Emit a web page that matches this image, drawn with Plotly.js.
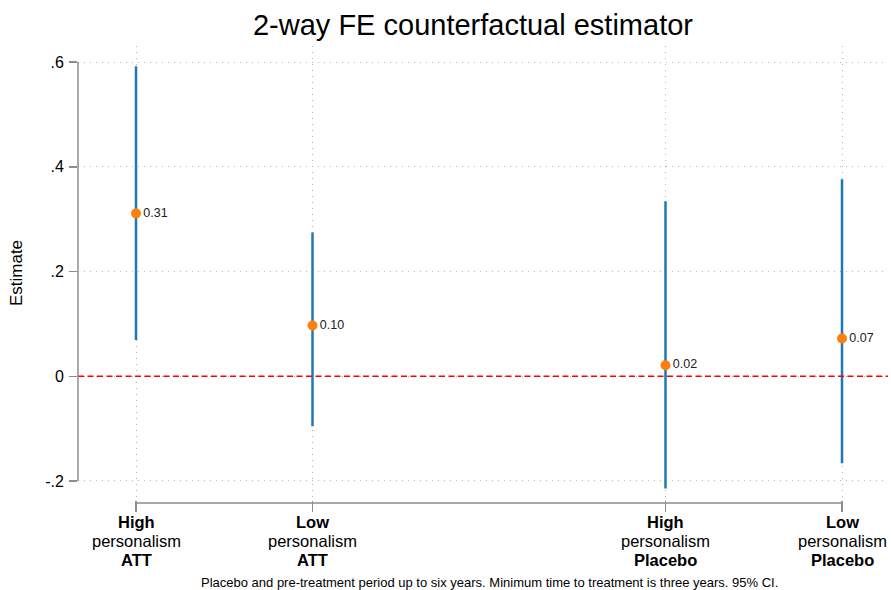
<!DOCTYPE html>
<html>
<head>
<meta charset="utf-8">
<script src="https://cdn.plot.ly/plotly-3.0.1.min.js"></script>
<style>html,body{margin:0;padding:0;background:#fff;}#chart{width:891px;height:590px;}</style>
</head>
<body>
<div id="chart"></div>
<script>
// Data
var positions = [1, 2, 4, 5];
var groupLabels = ["High", "Low", "High", "Low"];
var middleLabels = ["personalism", "personalism", "personalism", "personalism"];
var typeLabels = ["ATT", "ATT", "Placebo", "Placebo"];
var estimates = [0.311, 0.097, 0.021, 0.072];
var ciLower = [0.069, -0.0955, -0.2145, -0.166];
var ciUpper = [0.592, 0.2745, 0.334, 0.376];
var estimateText = ["0.31", "0.10", "0.02", "0.07"];
var yTickVals = [-0.2, 0, 0.2, 0.4, 0.6];
var yTickText = ["-.2", "0", ".2", ".4", ".6"];

var xRange = [0.6714, 5.2606];
var yRange = [-0.2363, 0.6306];
var FONT = "Liberation Sans, Arial, sans-serif";

function px(v){ return (v - xRange[0]) / (xRange[1] - xRange[0]); }
function py(v){ return (v - yRange[0]) / (yRange[1] - yRange[0]); }

var trace = {
  x: positions,
  y: estimates,
  type: "scatter",
  mode: "markers+text",
  text: estimateText,
  textposition: "middle right",
  textfont: {family: FONT, size: 12.5, color: "#222"},
  marker: {color: "#ff7f0e", size: 10},
  error_y: {
    type: "data",
    symmetric: false,
    array: estimates.map(function(e, i){ return ciUpper[i] - e; }),
    arrayminus: estimates.map(function(e, i){ return e - ciLower[i]; }),
    color: "#1f77b4",
    thickness: 2.5,
    width: 0
  },
  cliponaxis: false,
  hoverinfo: "skip",
  showlegend: false
};

var annotations = [];
for (var i = 0; i < positions.length; i++) {
  annotations.push({x: positions[i], xref: "x", y: 0, yref: "paper", yanchor: "middle", yshift: -21.5,
    borderpad: 0, valign: "middle",
    text: "<b>" + groupLabels[i] + "</b>", showarrow: false, font: {family: FONT, size: 16.5, color: "#000"}});
  annotations.push({x: positions[i], xref: "x", y: 0, yref: "paper", yanchor: "middle", yshift: -40.5,
    borderpad: 0, valign: "middle",
    text: middleLabels[i], showarrow: false, font: {family: FONT, size: 16.5, color: "#000"}});
  annotations.push({x: positions[i], xref: "x", y: 0, yref: "paper", yanchor: "middle", yshift: -59.5,
    borderpad: 0, valign: "middle",
    text: "<b>" + typeLabels[i] + "</b>", showarrow: false, font: {family: FONT, size: 16.5, color: "#000"}});
}
annotations.push({x: (489 - 78) / 810, xref: "paper", y: 0, yref: "paper", yanchor: "middle", yshift: -82.5,
  height: 15, borderpad: 0, valign: "middle",
  text: "Placebo and pre-treatment period up to six years. Minimum time to treatment is three years. 95% CI.",
  showarrow: false, font: {family: FONT, size: 13, color: "#000"}});

var shapes = [
  // zero reference line
  {type: "line", xref: "paper", yref: "paper", x0: 0, x1: 1, y0: py(0), y1: py(0),
   line: {color: "#ff0000", width: 1.5, dash: "6px,3.5px"}},
  // y axis line
  {type: "line", xref: "paper", yref: "paper", x0: 0, x1: 0, y0: py(yTickVals[0]), y1: py(yTickVals[yTickVals.length-1]),
   line: {color: "#8c8c8c", width: 1.5}},
  // x axis line
  {type: "line", xref: "paper", yref: "paper", x0: px(positions[0]), x1: px(positions[positions.length-1]), y0: -3/454, y1: -3/454,
   line: {color: "#8c8c8c", width: 1.5}}
];

var layout = {
  width: 891, height: 590,
  margin: {l: 78, r: 3, t: 46, b: 90, pad: 0},
  paper_bgcolor: "#fff", plot_bgcolor: "#fff",
  font: {family: FONT, color: "#000"},
  title: {text: "2-way FE counterfactual estimator", font: {family: FONT, size: 29, color: "#000"},
    x: (473 - 0) / 891, xanchor: "center", xref: "container", y: 1 - 25/590, yanchor: "middle", yref: "container"},
  xaxis: {range: xRange, tickmode: "array", tickvals: positions, showticklabels: false,
    ticks: "outside", ticklen: 11, tickwidth: 1.5, tickcolor: "#8c8c8c",
    showgrid: true, gridcolor: "#b4b4b4", griddash: "1px,5px", gridwidth: 1,
    zeroline: false, showline: false, fixedrange: true},
  yaxis: {range: yRange, tickmode: "array", tickvals: yTickVals, ticktext: yTickText,
    ticks: "outside", ticklen: 8, tickwidth: 1.5, tickcolor: "#8c8c8c", ticklabelstandoff: 2,
    tickfont: {family: FONT, size: 16, color: "#000"},
    showgrid: true, gridcolor: "#b4b4b4", griddash: "1px,5px", gridwidth: 1,
    zeroline: false, showline: false, fixedrange: true,
    title: {text: "Estimate", font: {family: FONT, size: 17, color: "#000"}, standoff: 18}},
  shapes: shapes,
  annotations: annotations
};

Plotly.newPlot("chart", [trace], layout, {displayModeBar: false, staticPlot: true});
</script>
</body>
</html>
